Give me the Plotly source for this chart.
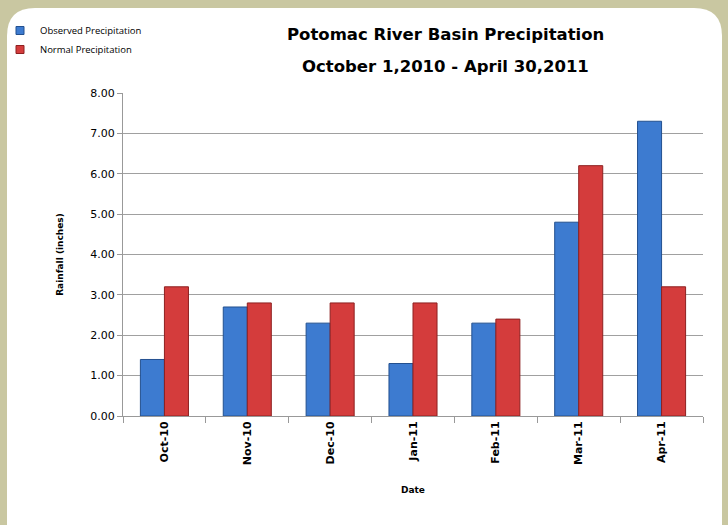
import plotly.graph_objects as go

categories = ["Oct-10", "Nov-10", "Dec-10", "Jan-11", "Feb-11", "Mar-11", "Apr-11"]
observed = [1.4, 2.7, 2.3, 1.3, 2.3, 4.8, 7.3]
normal = [3.2, 2.8, 2.8, 2.8, 2.4, 6.2, 3.2]
y_ticks = [0, 1, 2, 3, 4, 5, 6, 7, 8]
title_lines = ["Potomac River Basin Precipitation", "October 1,2010 - April 30,2011"]

W, H = 728, 525
ML, MR, MT, MB = 123, 25, 93, 109
PW, PH = W - ML - MR, H - MT - MB

def px(x):
    return (x - ML) / PW

def py(y):
    return (H - MB - y) / PH

BLUE, BLUE_LINE = "#3d7bd0", "#23508f"
RED, RED_LINE = "#d43c3c", "#8e2020"

fig = go.Figure()
fig.add_trace(go.Bar(name="Observed Precipitation", x=categories, y=observed, showlegend=False,
                     marker=dict(color=BLUE, line=dict(color=BLUE_LINE, width=1))))
fig.add_trace(go.Bar(name="Normal Precipitation", x=categories, y=normal, showlegend=False,
                     marker=dict(color=RED, line=dict(color=RED_LINE, width=1))))
# legend entries with small square symbols
fig.add_trace(go.Scatter(name="Observed Precipitation", x=[None], y=[None], mode="markers",
                         marker=dict(symbol="square", size=8, color=BLUE, line=dict(color=BLUE_LINE, width=1))))
fig.add_trace(go.Scatter(name="Normal Precipitation", x=[None], y=[None], mode="markers",
                         marker=dict(symbol="square", size=8, color=RED, line=dict(color=RED_LINE, width=1))))

# rounded white panel
x0, x1, y0, y1, r = 7, 722, 8, 540, 28
path = (f"M {px(x0)},{py(y0 + r)} Q {px(x0)},{py(y0)} {px(x0 + r)},{py(y0)} "
        f"L {px(x1 - r)},{py(y0)} Q {px(x1)},{py(y0)} {px(x1)},{py(y0 + r)} "
        f"L {px(x1)},{py(y1)} L {px(x0)},{py(y1)} Z")
fig.add_shape(type="path", path=path, xref="paper", yref="paper",
              fillcolor="white", line=dict(width=0), layer="below")

for txt, yy in zip(title_lines, [35, 67]):
    fig.add_annotation(text=txt, x=px(445), y=py(yy), xref="paper", yref="paper",
                       showarrow=False, xanchor="center", yanchor="middle",
                       font=dict(family="DejaVu Sans", size=16.5, color="black", weight="bold"))

fig.update_layout(
    width=W, height=H,
    margin=dict(l=ML, r=MR, t=MT, b=MB, autoexpand=False),
    paper_bgcolor="#c9c7a1",
    plot_bgcolor="white",
    barmode="group", bargap=0.42, bargroupgap=0,
    legend=dict(x=px(0), y=py(16), xanchor="left", yanchor="top",
                font=dict(family="Open Sans", size=9.5, color="black"),
                bgcolor="rgba(0,0,0,0)", tracegroupgap=0, itemwidth=30),
    font=dict(family="DejaVu Sans", color="black"),
)
fig.update_xaxes(
    title=dict(text="Date", font=dict(size=9, weight="bold"), standoff=22),
    tickangle=-90, tickfont=dict(size=11, weight="bold"),
    showline=True, linecolor="#999999", linewidth=1,
    ticks="outside", tickson="boundaries", ticklen=6, tickcolor="#999999",
    automargin=False,
)
fig.update_yaxes(
    title=dict(text="Rainfall (inches)", font=dict(size=9, weight="bold"), standoff=25),
    range=[0, 8], tickvals=y_ticks, tickformat=".2f", tickfont=dict(size=11),
    showgrid=True, gridcolor="#a0a0a0", gridwidth=1,
    showline=True, linecolor="#999999", linewidth=1,
    ticks="outside", ticklen=5, tickcolor="#999999", zeroline=False,
    automargin=False,
)
fig.write_html("out.html", config={"displayModeBar": False},
               post_script="document.body.style.margin='0';document.body.style.background='#c9c7a1';")
